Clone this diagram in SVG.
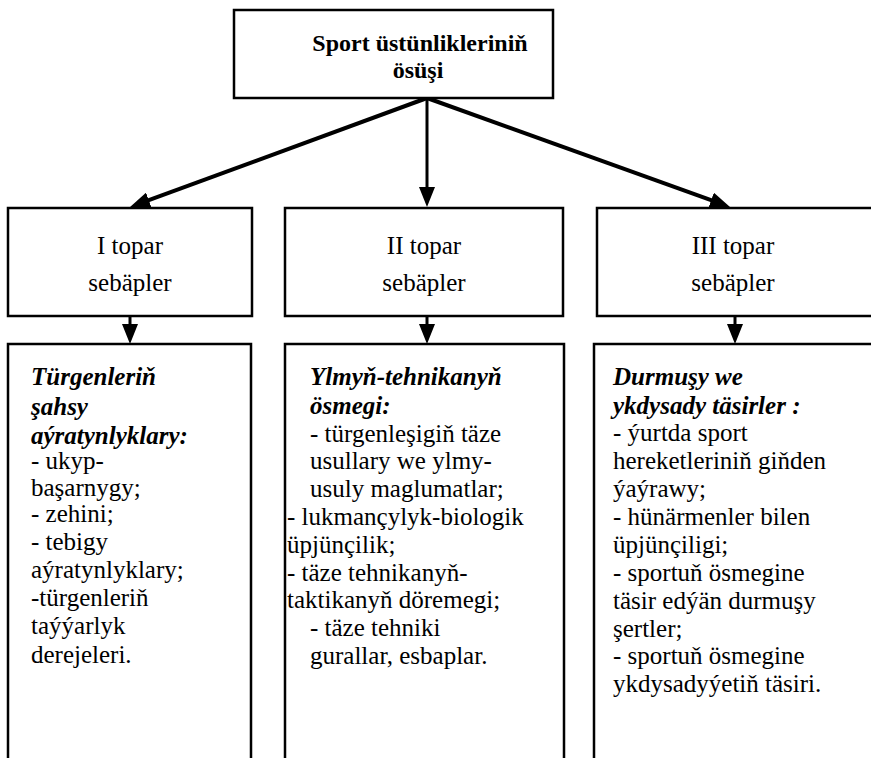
<svg xmlns="http://www.w3.org/2000/svg" width="871" height="758" viewBox="0 0 871 758">
<style>
.box{fill:#fff;stroke:#000;stroke-width:2.5}
.open{fill:none;stroke:#000;stroke-width:2.5}
.t{font-family:'Times New Roman','Liberation Serif',Tinos,serif;font-size:25px;fill:#000}
.c{text-anchor:middle}
.hb{font-weight:bold;font-style:italic}
.top{font-family:'Times New Roman','Liberation Serif',Tinos,serif;font-size:24px;font-weight:bold;text-anchor:middle;fill:#000}
.ar{stroke:#000;stroke-width:4;fill:none}
.av{stroke:#000;stroke-width:3;fill:none}
</style>
<defs>
<marker id="ah" viewBox="0 0 20 16" refX="8" refY="8" markerWidth="20" markerHeight="16" markerUnits="userSpaceOnUse" orient="auto">
<path d="M0,0 L20,8 L0,16 z" fill="#000"/>
</marker>
</defs>
<g id="connectors">
<line class="ar" x1="427" y1="98" x2="141.3" y2="202.9" marker-end="url(#ah)"/>
<line class="av" x1="427" y1="98" x2="427" y2="195" marker-end="url(#ah)"/>
<line class="ar" x1="427" y1="98" x2="718.7" y2="202.9" marker-end="url(#ah)"/>
<line class="av" x1="130" y1="316" x2="130" y2="332" marker-end="url(#ah)"/>
<line class="av" x1="427" y1="316" x2="427" y2="332" marker-end="url(#ah)"/>
<line class="av" x1="735" y1="316" x2="735" y2="332" marker-end="url(#ah)"/>
</g>
<g id="top">
<rect class="box" x="234" y="10" width="319" height="88"/>
<text class="top" x="420" y="51">Sport üstünlikleriniň</text>
<text class="top" x="418" y="78">ösüşi</text>
</g>
<g id="g1">
<rect class="box" x="8" y="208" width="244" height="108"/>
<text class="t c" x="130" y="254">I topar</text>
<text class="t c" x="130" y="291">sebäpler</text>
</g>
<g id="g2">
<rect class="box" x="285" y="208" width="278" height="108"/>
<text class="t c" x="424" y="254">II topar</text>
<text class="t c" x="424" y="291">sebäpler</text>
</g>
<g id="g3">
<rect class="box" x="597" y="208" width="280" height="108"/>
<text class="t c" x="733" y="254">III topar</text>
<text class="t c" x="733" y="291">sebäpler</text>
</g>
<g id="d1">
<path class="open" d="M8,758 V344 H251 V758"/>
<text class="t">
<tspan class="hb" x="31" y="385">Türgenleriň</tspan>
<tspan class="hb" x="31" y="415">şahsy</tspan>
<tspan class="hb" x="31" y="444">aýratynlyklary:</tspan>
<tspan x="31" y="469">- ukyp-</tspan>
<tspan x="31" y="496">başarnygy;</tspan>
<tspan x="31" y="522">- zehini;</tspan>
<tspan x="31" y="550">- tebigy</tspan>
<tspan x="31" y="578">aýratynlyklary;</tspan>
<tspan x="31" y="606">-türgenleriň</tspan>
<tspan x="31" y="634">taýýarlyk</tspan>
<tspan x="31" y="663">derejeleri.</tspan>
</text>
</g>
<g id="d2">
<path class="open" d="M285,758 V344 H564 V758"/>
<text class="t">
<tspan class="hb" x="310" y="385">Ylmyň-tehnikanyň</tspan>
<tspan class="hb" x="310" y="414">ösmegi:</tspan>
<tspan x="310" y="442">- türgenleşigiň täze</tspan>
<tspan x="310" y="469">usullary we ylmy-</tspan>
<tspan x="310" y="497">usuly maglumatlar;</tspan>
<tspan x="287" y="525">- lukmançylyk-biologik</tspan>
<tspan x="287" y="553">üpjünçilik;</tspan>
<tspan x="287" y="581">- täze tehnikanyň-</tspan>
<tspan x="287" y="608">taktikanyň döremegi;</tspan>
<tspan x="310" y="636">- täze tehniki</tspan>
<tspan x="310" y="664">gurallar, esbaplar.</tspan>
</text>
</g>
<g id="d3">
<path class="open" d="M594,758 V344 H875"/>
<text class="t">
<tspan class="hb" x="613" y="385">Durmuşy we</tspan>
<tspan class="hb" x="613" y="414">ykdysady täsirler :</tspan>
<tspan x="613" y="441">- ýurtda sport</tspan>
<tspan x="613" y="469">hereketleriniň giňden</tspan>
<tspan x="613" y="497">ýaýrawy;</tspan>
<tspan x="613" y="525">- hünärmenler bilen</tspan>
<tspan x="613" y="553">üpjünçiligi;</tspan>
<tspan x="613" y="581">- sportuň ösmegine</tspan>
<tspan x="613" y="609">täsir edýän durmuşy</tspan>
<tspan x="613" y="637">şertler;</tspan>
<tspan x="613" y="664">- sportuň ösmegine</tspan>
<tspan x="613" y="692">ykdysadyýetiň täsiri.</tspan>
</text>
</g>
</svg>
